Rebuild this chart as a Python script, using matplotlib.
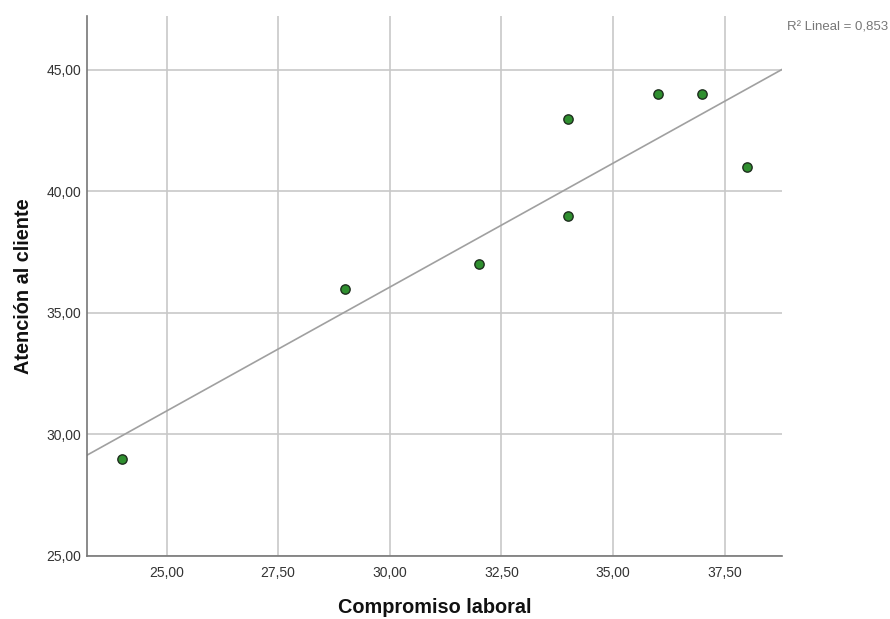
import matplotlib
matplotlib.use("Agg")
import matplotlib.pyplot as plt
import numpy as np
from matplotlib.ticker import FuncFormatter

compromiso = [24, 29, 32, 34, 34, 36, 37, 38]
atencion = [29, 36, 37, 43, 39, 44, 44, 41]
x_ticks = [25.0, 27.5, 30.0, 32.5, 35.0, 37.5]
y_ticks = [25.0, 30.0, 35.0, 40.0, 45.0]

plt.rcParams['font.family'] = ['Liberation Sans', 'DejaVu Sans']

fig = plt.figure(figsize=(8.9, 6.19), dpi=100)
ax = fig.add_axes([87/890, 1-556/619, (782-87)/890, (556-16)/619])

x = np.array(compromiso, float)
y = np.array(atencion, float)
slope, intercept = np.polyfit(x, y, 1)
r2 = np.corrcoef(x, y)[0, 1] ** 2

xmin, xmax = 23.22, 38.78
ax.set_xlim(xmin, xmax)
ax.set_ylim(25, 47.22)

ax.grid(True, color='#c8c8c8', linewidth=1.2)
ax.set_axisbelow(True)
xs = np.array([xmin, xmax])
ax.plot(xs, intercept + slope * xs, color='#a0a0a0', linewidth=1.2, zorder=2)
ax.scatter(x, y, s=45, facecolor='#2f8f2f', edgecolor='#1e2e1e', linewidth=1.0, zorder=3)

ax.set_xticks(x_ticks)
ax.set_yticks(y_ticks)
fmt = FuncFormatter(lambda v, p: f"{v:.2f}".replace('.', ','))
ax.xaxis.set_major_formatter(fmt)
ax.yaxis.set_major_formatter(fmt)
ax.tick_params(axis='x', length=0, labelsize=10, colors='#333333', pad=7)
ax.tick_params(axis='y', length=0, labelsize=10, colors='#333333', pad=4)

for s in ['top', 'right']:
    ax.spines[s].set_visible(False)
for s in ['left', 'bottom']:
    ax.spines[s].set_color('#777777')
    ax.spines[s].set_linewidth(1.2)

ax.set_xlabel('Compromiso laboral', fontsize=14.3, fontweight='bold', labelpad=13, color='#111111')
ax.set_ylabel('Atención al cliente', fontsize=14.3, fontweight='bold', labelpad=10, color='#111111')

fig.text(888/890, 1-27/619, f"R² Lineal = {r2:.3f}".replace('.', ','), ha='right', va='center',
         fontsize=9.5, color='#777777')

fig.savefig('out.png', dpi=100, facecolor='white')
